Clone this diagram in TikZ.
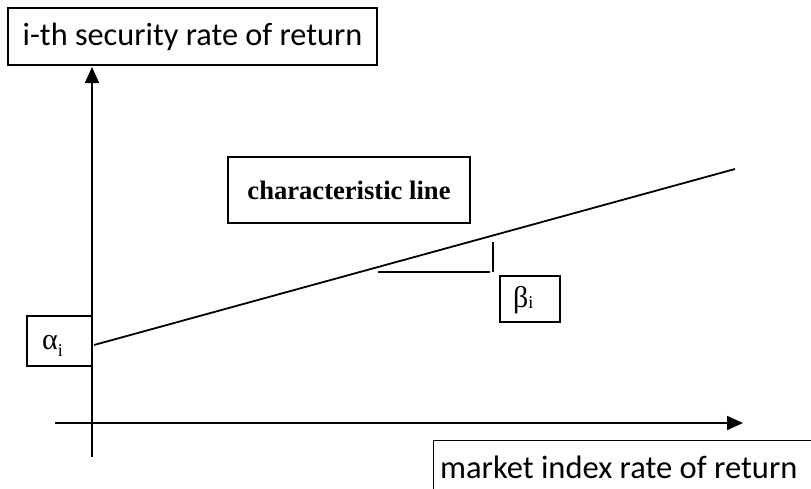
\documentclass[tikz,border=0pt]{standalone}
\usepackage{fontspec}
\setmainfont{Liberation Serif}
\newfontfamily\calibrifont{Carlito}
\usetikzlibrary{arrows.meta}
\begin{document}
\begin{tikzpicture}[x=1pt,y=-1pt,
  lbox/.style={draw, line width=1.2pt, inner sep=0pt},
  axis/.style={line width=1.8pt, -{Triangle[length=16pt,width=14pt]}},
  cline/.style={line width=1.8pt},
  tline/.style={line width=1.5pt}]
\useasboundingbox (0,0) rectangle (811,488);
\clip (0,0) rectangle (811,488);
% axes
\coordinate (yb) at (92,457);
\coordinate (yt) at (92,67);
\coordinate (xl) at (55,423);
\coordinate (xr) at (743,423);
\draw[axis] (xl) -- (xr);
% boxes
\node[lbox, minimum width=369pt, minimum height=57pt] (ylab) at (192.5,36.5)
  {\calibrifont\fontsize{32.3}{34}\selectfont i-th security rate of return};
\node[lbox, anchor=north west, minimum width=420pt, minimum height=80pt] (xbox) at (433,440) {};
\node[anchor=base west, inner sep=0pt] (xlab) at (440,478)
  {\calibrifont\fontsize{32.5}{34}\selectfont market index rate of return};
\node[lbox, minimum width=242pt, minimum height=66pt] (clab) at (349,190)
  {\fontsize{26.6}{28}\selectfont\bfseries characteristic line};
\node[lbox, fill=white, minimum width=65pt, minimum height=50pt] (alab) at (59.5,341) {};
\node[anchor=base west, inner sep=0pt] (atext) at (42,349)
  {\fontsize{30}{30}\selectfont α\raisebox{-7pt}{\fontsize{18}{20}\selectfont i}};
\node[lbox, minimum width=60pt, minimum height=46pt] (blab) at (530,299) {};
\node[anchor=base west, inner sep=0pt] (btext) at (513,307)
  {\fontsize{30}{30}\selectfont β\raisebox{-1pt}{\fontsize{18}{20}\selectfont i}};
% characteristic line
\coordinate (cs) at (94,345);
\coordinate (ce) at (735,169);
\draw[cline] (cs) -- (ce);
% slope marker
\coordinate (b1) at (378,272);
\coordinate (b2) at (490,272);
\coordinate (b3) at (493,242);
\coordinate (b4) at (493,272);
\draw[tline] (b1) -- (b2);
\draw[tline] (b3) -- (b4);
\draw[axis] (yb) -- (yt);
\end{tikzpicture}
\end{document}
